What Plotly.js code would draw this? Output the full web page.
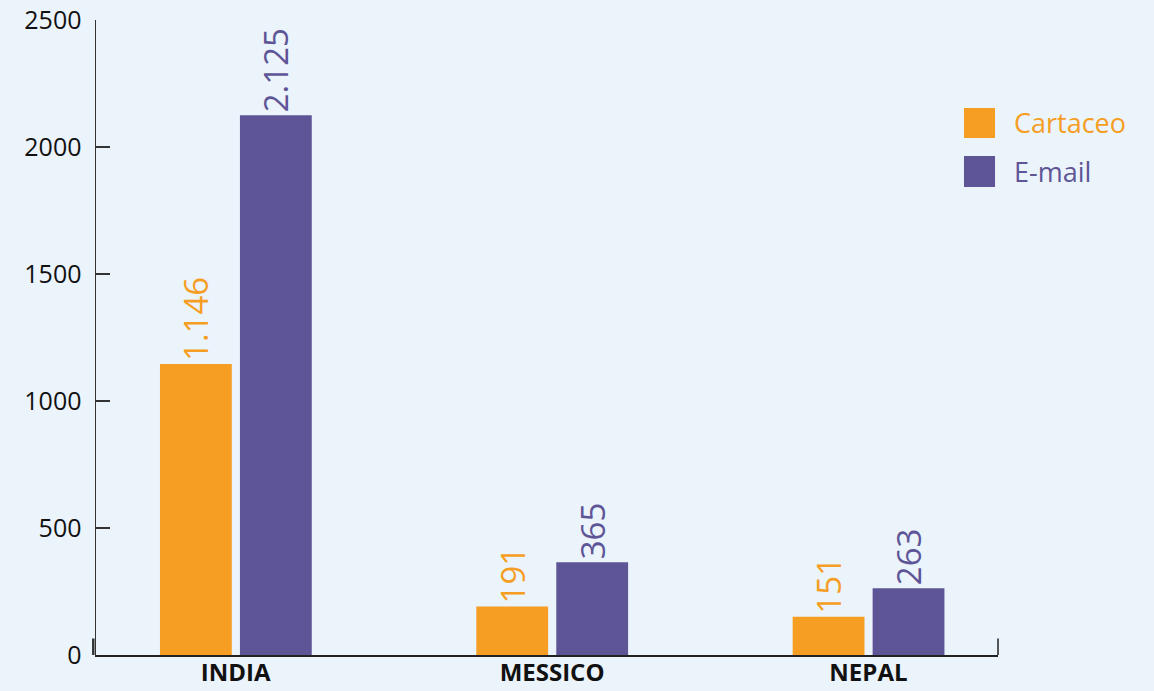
<!DOCTYPE html>
<html>
<head>
<meta charset="utf-8">
<script src="https://cdn.plot.ly/plotly-3.0.1.min.js"></script>
<style>html,body{margin:0;padding:0;background:#EBF3FB;}#chart{width:1154px;height:691px;}</style>
</head>
<body>
<div id="chart"></div>
<script>
var categories = ['INDIA', 'MESSICO', 'NEPAL'];
var seriesNames = ['Cartaceo', 'E-mail'];
var cartaceo = [1146, 191, 151];
var email = [2125, 365, 263];
var yTicks = [0, 500, 1000, 1500, 2000, 2500];

var colors = ['#F59E23', '#5E5597'];
var font = 'Open Sans, Noto Sans, sans-serif';

function barTrace(name, values, color, offset) {
  return {
    type: 'bar', name: name, x: categories, y: values,
    width: 0.227, offset: offset,
    marker: {color: color},
    texttemplate: '%{y:,}', textposition: 'outside', textangle: -90,
    constraintext: 'none', cliponaxis: false,
    textfont: {family: font, size: 33, color: color},
    showlegend: false, hoverinfo: 'x+y+name'
  };
}

var data = [
  barTrace(seriesNames[0], cartaceo, colors[0], -0.2395),
  barTrace(seriesNames[1], email, colors[1], 0.0133)
];

var layout = {
  width: 1154, height: 691,
  margin: {l: 96, r: 156, t: 20, b: 36},
  paper_bgcolor: '#EBF3FB', plot_bgcolor: '#EBF3FB',
  separators: ',.',
  barmode: 'overlay',
  font: {family: font, color: '#111'},
  xaxis: {
    type: 'category', range: [-0.4417, 2.4096],
    showline: true, linecolor: '#222', linewidth: 1.5,
    ticks: '', showgrid: false, zeroline: false,
    ticklabelstandoff: -4,
    tickfont: {family: font, size: 24, color: '#111', weight: 'bold'}
  },
  yaxis: {
    range: [0, 2500], tickvals: yTicks,
    showline: true, linecolor: '#333', linewidth: 1.5,
    ticks: 'inside', ticklen: 14, tickwidth: 1.5, tickcolor: '#333',
    showgrid: false, zeroline: false,
    ticklabelstandoff: 8,
    tickfont: {family: font, size: 25, color: '#111'}
  },
  shapes: [
    {type: 'line', xref: 'paper', yref: 'paper', x0: 1, x1: 1, y0: 0, y1: 0.026, line: {color: '#222', width: 1.5}},
    {type: 'line', xref: 'paper', yref: 'paper', x0: -0.003, x1: -0.003, y0: 0, y1: 0.026, line: {color: '#333', width: 2.5}},
    {type: 'rect', xref: 'paper', yref: 'paper', x0: 0.9623, x1: 0.9967, y0: 0.8142, y1: 0.8614, fillcolor: colors[0], line: {width: 0}},
    {type: 'rect', xref: 'paper', yref: 'paper', x0: 0.9623, x1: 0.9967, y0: 0.7370, y1: 0.7858, fillcolor: colors[1], line: {width: 0}}
  ],
  annotations: [
    {xref: 'paper', yref: 'paper', x: 1.0155, y: 0.8378, xanchor: 'left', yanchor: 'middle', showarrow: false,
     text: seriesNames[0], font: {family: font, size: 27, color: colors[0]}},
    {xref: 'paper', yref: 'paper', x: 1.0155, y: 0.7622, xanchor: 'left', yanchor: 'middle', showarrow: false,
     text: seriesNames[1], font: {family: font, size: 27, color: colors[1]}}
  ]
};

Plotly.newPlot('chart', data, layout, {displayModeBar: false, staticPlot: true});
</script>
</body>
</html>
